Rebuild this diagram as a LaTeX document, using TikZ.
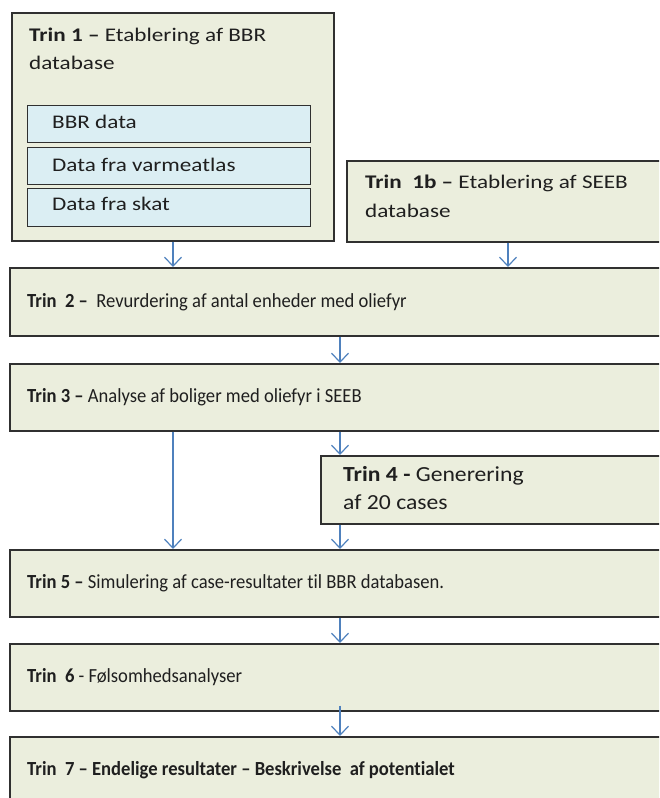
\documentclass[tikz,border=0pt]{standalone}
\usepackage{fontspec}
\setmainfont[Ligatures=NoCommon]{Carlito}
\newfontfamily\widefont[FakeStretch=1.2,Ligatures=NoCommon]{Carlito}
\newfontfamily\midfont[FakeStretch=1.1,Ligatures=NoCommon]{Carlito}
\newfontfamily\narrowfont[FakeStretch=0.93,Ligatures=NoCommon]{Carlito}
\usetikzlibrary{arrows.meta}
\definecolor{boxfill}{HTML}{EBEEDD}
\definecolor{datafill}{HTML}{DBEEF3}
\definecolor{arrowblue}{HTML}{4F81BD}
\definecolor{boxline}{HTML}{303030}
\begin{document}
\begin{tikzpicture}[x=1pt,y=-1pt,
  box/.style={draw=boxline, line width=1.6pt, fill=boxfill, anchor=north west, inner sep=0pt},
  databox/.style={draw=boxline, line width=1.3pt, fill=datafill, anchor=north west, inner sep=0pt},
  lbl/.style={anchor=base west, inner sep=0pt, font=\narrowfont\fontsize{20}{27}\selectfont, text=black!88},
  lblw/.style={lbl, font=\widefont\fontsize{19.3}{27}\selectfont},
  lblm/.style={lbl, font=\midfont\fontsize{21.5}{27}\selectfont},
  flow/.style={draw=arrowblue, line width=1.2pt, -{Straight Barb[length=9pt,width=17pt]}}
]
\useasboundingbox (0,0) rectangle (659,798);
\clip (0,0) rectangle (659,798);
% boxes
\node[box, minimum width=322pt, minimum height=228pt] (b1) at (11,12) {};
\node[databox, minimum width=283pt, minimum height=37pt] (d1) at (27,105) {};
\node[databox, minimum width=283pt, minimum height=37pt] (d2) at (27,147) {};
\node[databox, minimum width=283pt, minimum height=38pt] (d3) at (27,188) {};
\node[box, minimum width=330pt, minimum height=81pt] (b1b) at (346,160) {};
\node[box, minimum width=670pt, minimum height=68pt] (b2) at (9,267) {};
\node[box, minimum width=670pt, minimum height=67pt] (b3) at (9,363) {};
\node[box, minimum width=360pt, minimum height=68pt] (b4) at (320,455) {};
\node[box, minimum width=670pt, minimum height=67pt] (b5) at (9,549) {};
\node[box, minimum width=670pt, minimum height=67pt] (b6) at (9,643) {};
\node[box, minimum width=670pt, minimum height=80pt] (b7) at (9,736) {};
% texts
\node[lblw] (t1a) at (29,41) {\textbf{Trin 1 –} Etablering af BBR};
\node[lblw] (t1b) at (29,69) {database};
\node[lblw] (td1) at (52,128) {BBR data};
\node[lblw] (td2) at (52,171) {Data fra varmeatlas};
\node[lblw] (td3) at (52,210) {Data fra skat};
\node[lblw] (t1ba) at (365,188) {\textbf{Trin\ \ 1b –} Etablering af SEEB};
\node[lblw] (t1bb) at (365,217) {database};
\node[lbl] (t2) at (27,307) {\textbf{Trin\ \ 2 –}\ \ Revurdering af antal enheder med oliefyr};
\node[lbl] (t3) at (27,402) {\textbf{Trin 3 –} Analyse af boliger med oliefyr i SEEB};
\node[lblm] (t4a) at (343,481) {\textbf{Trin 4 -} Generering};
\node[lblm] (t4b) at (343,509) {af 20 cases};
\node[lbl] (t5) at (27,588) {\textbf{Trin 5 –} Simulering af case-resultater til BBR databasen.};
\node[lbl] (t6) at (27,682) {\textbf{Trin\ \ 6} - Følsomhedsanalyser};
\node[lbl] (t7) at (27,775) {\textbf{Trin\ \ 7 – Endelige resultater – Beskrivelse\ \ af potentialet}};
% connectors
\draw[flow] ([xshift=162pt]b1.south west) -- ([xshift=164pt]b2.north west);
\draw[flow] ([xshift=162pt]b1b.south west) -- ([xshift=499pt]b2.north west);
\draw[flow] ([xshift=331pt]b2.south west) -- ([xshift=331pt]b3.north west);
\draw[flow] ([xshift=331pt]b3.south west) -- ([xshift=20pt]b4.north west);
\draw[flow] ([xshift=164pt]b3.south west) -- ([xshift=164pt]b5.north west);
\draw[flow] ([xshift=20pt]b4.south west) -- ([xshift=331pt]b5.north west);
\draw[flow] ([xshift=331pt]b5.south west) -- ([xshift=331pt]b6.north west);
\draw[flow] ([xshift=331pt,yshift=6pt]b6.south west) -- ([xshift=331pt]b7.north west);
\end{tikzpicture}
\end{document}
